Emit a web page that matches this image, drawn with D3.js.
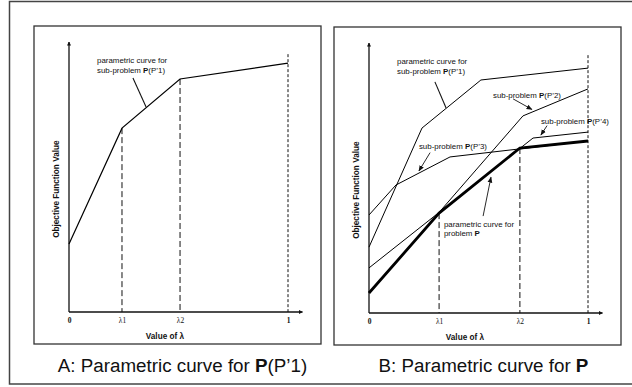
<!DOCTYPE html>
<html>
<head>
<meta charset="utf-8">
<script src="https://cdn.jsdelivr.net/npm/d3@7"></script>
<style>
  body { margin: 0; background: #fff; }
  svg { display: block; font-family: "Liberation Sans", Arial, sans-serif; }
  .note { font-size: 7.9px; fill: #111; }
  .axis-title { font-size: 8.2px; font-weight: bold; fill: #111; }
  .tick text { font-family: "Liberation Serif", serif; font-size: 7.5px; fill: #111; }
  .caption { font-size: 18.8px; fill: #111; }
</style>
</head>
<body>
<div class="chart"></div>
<script>
// tick positions on the lambda axis and their labels
const tickLabels = ["0", "\u03bb1", "\u03bb2", "1"];
const ticksA = [0, 0.242, 0.507, 1];
const ticksB = [0, 0.320, 0.689, 1];

// panel A: curve for sub-problem P(P'1)
const p1A_lambda = [0, 0.242, 0.507, 1];
const p1A_value  = [25.2, 68.1, 86.3, 92.2];

// panel B: sub-problem curves
const p1B_lambda = [0, 0.242, 0.511, 1];
const p1B_value  = [24.4, 68.5, 86.3, 90.7];
const p2_lambda = [0, 0.703, 1];
const p2_value  = [7.4, 73.0, 83.0];
const p3_lambda = [0, 0.123, 0.370, 1];
const p3_value  = [36.3, 47.4, 57.8, 63.7];
const p4_lambda = [0, 0.749, 1];
const p4_value  = [16.7, 64.8, 67.0];
// parametric curve for problem P
const pP_lambda = [0, 0.320, 0.689, 1];
const pP_value  = [7.4, 37.0, 61.1, 63.7];

// height where the dashed line at lambda = 1 starts
const topDash = 95.5;

const W = 632, H = 387;
const svg = d3.select(".chart").append("svg")
    .attr("width", W)
    .attr("height", H);

const defs = svg.append("defs");
defs.append("marker")
    .attr("id", "arrow")
    .attr("viewBox", "0 0 10 10")
    .attr("refX", 9).attr("refY", 5)
    .attr("markerWidth", 6).attr("markerHeight", 6)
    .attr("markerUnits", "userSpaceOnUse")
    .attr("orient", "auto")
    .append("path")
    .attr("d", "M0,1L10,5L0,9Z")
    .attr("fill", "#111");
defs.append("marker")
    .attr("id", "axisArrow")
    .attr("viewBox", "0 0 10 10")
    .attr("refX", 9).attr("refY", 5)
    .attr("markerWidth", 4).attr("markerHeight", 4)
    .attr("markerUnits", "userSpaceOnUse")
    .attr("orient", "auto")
    .append("path")
    .attr("d", "M0,0L10,5L0,10Z")
    .attr("fill", "#111");

// outer frame (runs off the right edge)
svg.append("rect")
    .attr("x", 9.5).attr("y", 1.5)
    .attr("width", 640).attr("height", 382.5)
    .attr("fill", "none")
    .attr("stroke", "#444")
    .attr("stroke-width", 1.5);

const toPts = (ls, vs) => ls.map((l, i) => [l, vs[i]]);

function panel(opt) {
    const g = svg.append("g");

    g.append("rect")
        .attr("x", opt.box[0]).attr("y", opt.box[1])
        .attr("width", opt.box[2]).attr("height", opt.box[3])
        .attr("fill", "none")
        .attr("stroke", "#333")
        .attr("stroke-width", 1.3);

    const x = d3.scaleLinear().domain([0, 1]).range([opt.x0, opt.x0 + 219]);
    const y = d3.scaleLinear().domain([0, 100]).range([opt.y0, opt.y0 - 270]);

    // axes
    g.append("line")
        .attr("x1", x(0)).attr("y1", y(0))
        .attr("x2", x(0)).attr("y2", y(100))
        .attr("stroke", "#111").attr("stroke-width", 1.3)
        .attr("marker-end", "url(#axisArrow)");
    g.append("line")
        .attr("x1", x(0)).attr("y1", y(0))
        .attr("x2", x(1.066)).attr("y2", y(0))
        .attr("stroke", "#111").attr("stroke-width", 1.3)
        .attr("marker-end", "url(#axisArrow)");

    const xAxis = g.append("g")
        .attr("transform", "translate(0," + y(0) + ")")
        .call(d3.axisBottom(x)
            .tickValues(opt.ticks)
            .tickFormat((d, i) => tickLabels[i])
            .tickSize(0)
            .tickPadding(6));
    xAxis.select(".domain").remove();
    xAxis.selectAll(".tick text")
        .attr("font-weight", (d, i) => (i === 0 || i === 3) ? "bold" : "normal");

    g.append("text")
        .attr("class", "axis-title")
        .attr("x", x(0.438)).attr("y", y(0) + 26.5)
        .attr("text-anchor", "middle")
        .text("Value of \u03bb");

    g.append("text")
        .attr("class", "axis-title")
        .attr("transform", "translate(" + (x(0) - 10) + "," + y(45.5) + ") rotate(-90)")
        .attr("text-anchor", "middle")
        .text("Objective Function Value");

    // dashed guide lines
    opt.guides.forEach(function(d) {
        g.append("line")
            .attr("x1", x(d[0])).attr("y1", y(d[1]))
            .attr("x2", x(d[0])).attr("y2", y(0))
            .attr("stroke", "#111")
            .attr("stroke-width", 1)
            .attr("stroke-dasharray", d[0] === 1 ? "3,2" : "6,3");
    });

    const line = d3.line().x(d => x(d[0])).y(d => y(d[1]));
    opt.curves.forEach(function(c) {
        g.append("path")
            .datum(c.pts)
            .attr("d", line)
            .attr("fill", "none")
            .attr("stroke", "#000")
            .attr("stroke-width", c.w)
            .attr("stroke-linejoin", "miter");
    });

    // annotation text and leader lines
    opt.notes.forEach(function(n) {
        const t = g.append("text")
            .attr("class", "note")
            .attr("x", x(n.at[0])).attr("y", y(n.at[1]));
        n.lines.forEach(function(l, i) {
            const ts = t.append("tspan")
                .attr("x", x(n.at[0]))
                .attr("dy", i === 0 ? 0 : 9.5);
            l.forEach(function(part) {
                ts.append("tspan")
                    .attr("font-weight", part.b ? "bold" : "normal")
                    .text(part.t);
            });
        });
        if (n.lead) {
            g.append("line")
                .attr("x1", x(n.lead[0])).attr("y1", y(n.lead[1]))
                .attr("x2", x(n.lead[2])).attr("y2", y(n.lead[3]))
                .attr("stroke", "#111")
                .attr("stroke-width", n.arrow ? 0.9 : 1.1)
                .attr("marker-end", n.arrow ? "url(#arrow)" : null);
        }
    });

    g.append("text")
        .attr("class", "caption")
        .attr("x", opt.cap[0]).attr("y", opt.cap[1])
        .attr("text-anchor", "middle")
        .selectAll("tspan")
        .data(opt.caption)
        .join("tspan")
        .attr("font-weight", d => d.b ? "bold" : "normal")
        .text(d => d.t);
}

const sub = n => [{t: "sub-problem "}, {t: "P", b: true}, {t: "(P\u2019" + n + ")"}];

panel({
    box: [34, 26, 287, 318],
    x0: 69, y0: 312,
    ticks: ticksA,
    guides: [[ticksA[1], p1A_value[1]], [ticksA[2], p1A_value[2]], [1, topDash]],
    curves: [{pts: toPts(p1A_lambda, p1A_value), w: 1.2}],
    notes: [
        {at: [0.128, 92.2], lines: [[{t: "parametric curve for"}], sub(1)],
         lead: [0.292, 86.7, 0.352, 75.9]}
    ],
    cap: [182.5, 372],
    caption: [{t: "A: Parametric curve for "}, {t: "P", b: true}, {t: "(P\u20191)"}]
});

panel({
    box: [334, 27, 287, 318],
    x0: 369, y0: 313,
    ticks: ticksB,
    guides: [[ticksB[1], pP_value[1]], [ticksB[2], pP_value[2]], [1, topDash]],
    curves: [
        {pts: toPts(p1B_lambda, p1B_value), w: 1},
        {pts: toPts(p2_lambda, p2_value), w: 1},
        {pts: toPts(p3_lambda, p3_value), w: 1},
        {pts: toPts(p4_lambda, p4_value), w: 1},
        {pts: toPts(pP_lambda, pP_value), w: 2.8}
    ],
    notes: [
        {at: [0.128, 92.2], lines: [[{t: "parametric curve for"}], sub(1)],
         lead: [0.301, 85.6, 0.352, 75.9]},
        {at: [0.566, 79.6], lines: [sub(2)],
         lead: [0.658, 79.3, 0.744, 75.4], arrow: true},
        {at: [0.785, 70.0], lines: [sub(4)],
         lead: [0.813, 69.4, 0.785, 65.9], arrow: true},
        {at: [0.228, 60.7], lines: [sub(3)],
         lead: [0.279, 59.4, 0.228, 52.6], arrow: true},
        {at: [0.342, 31.9], lines: [[{t: "parametric curve for"}], [{t: "problem "}, {t: "P", b: true}]],
         lead: [0.521, 35.9, 0.557, 50.3], arrow: true}
    ],
    cap: [483.5, 372],
    caption: [{t: "B: Parametric curve for "}, {t: "P", b: true}]
});
</script>
</body>
</html>
